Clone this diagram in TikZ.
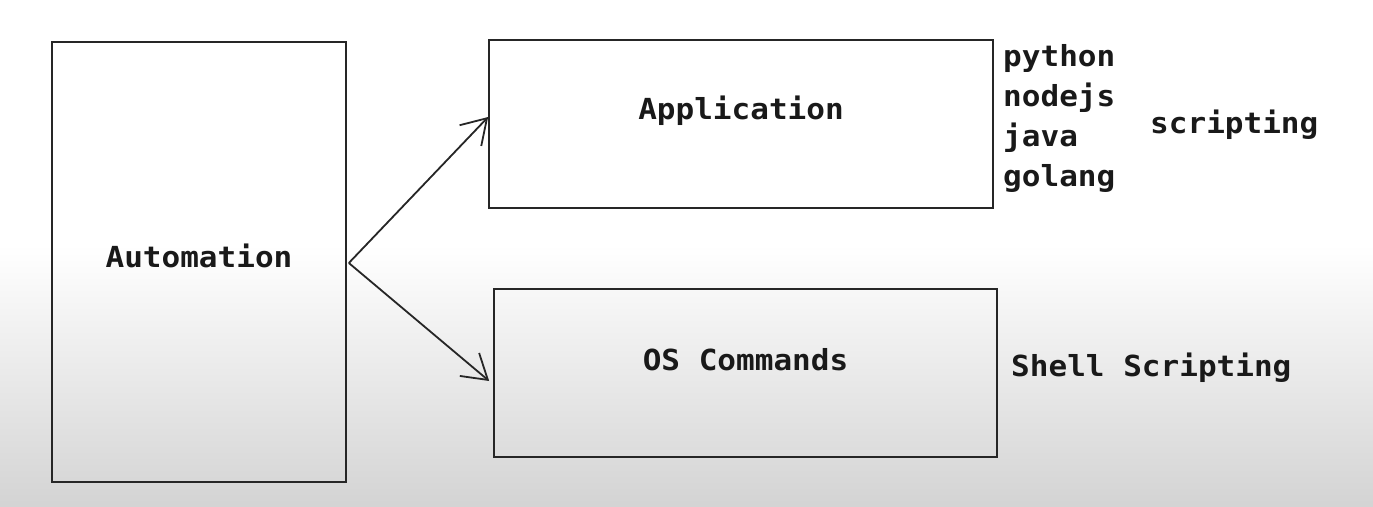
\documentclass[tikz,border=0pt]{standalone}
\usepackage{fontspec}
\setmonofont[FakeStretch=1.07]{DejaVu Sans Mono}
\usetikzlibrary{arrows.meta}
\begin{document}
\begin{tikzpicture}[x=1pt,y=-1pt,
  box/.style={draw=black!85, line width=1.7pt, minimum width=#1},
  lbl/.style={font=\fontsize{29}{38}\selectfont\ttfamily\bfseries, inner sep=0pt, text=black!90},
  arr/.style={-{Straight Barb[length=24pt,width=30pt]}, line width=1.8pt, draw=black!85}]
\fill[white] (0,0) rectangle (1373,506);
\shade[top color=white, bottom color=black!17] (0,245) rectangle (1373,506);
\useasboundingbox (0,0) rectangle (1373,506);

\node[box=294pt, minimum height=440pt] (auto) at (199,262) {};
\node[box=504pt, minimum height=168pt] (app) at (741,124) {};
\node[box=503pt, minimum height=168pt] (os) at (745.5,373) {};

\node[lbl] (autol) at ([yshift=6pt]auto.center) {Automation};
\node[lbl] (appl) at ([yshift=13pt]app.center) {Application};
\node[lbl] (osl) at ([yshift=13pt]os.center) {OS Commands};

\node[lbl, anchor=west] (py) at (1003,58) {python};
\node[lbl, anchor=west] (nd) at (1003,98) {nodejs};
\node[lbl, anchor=west] (jv) at (1003,138) {java};
\node[lbl, anchor=west] (go) at (1003,178) {golang};
\node[lbl, anchor=west] (scr) at (1150,125) {scripting};
\node[lbl, anchor=west] (sh) at (1011,368) {Shell Scripting};

\draw[arr] ([xshift=2pt,yshift=-1pt]auto.east) -- ([yshift=7pt]app.west);
\draw[arr] ([xshift=2pt,yshift=-1pt]auto.east) -- ([xshift=-4pt,yshift=-8pt]os.west);
\end{tikzpicture}
\end{document}
